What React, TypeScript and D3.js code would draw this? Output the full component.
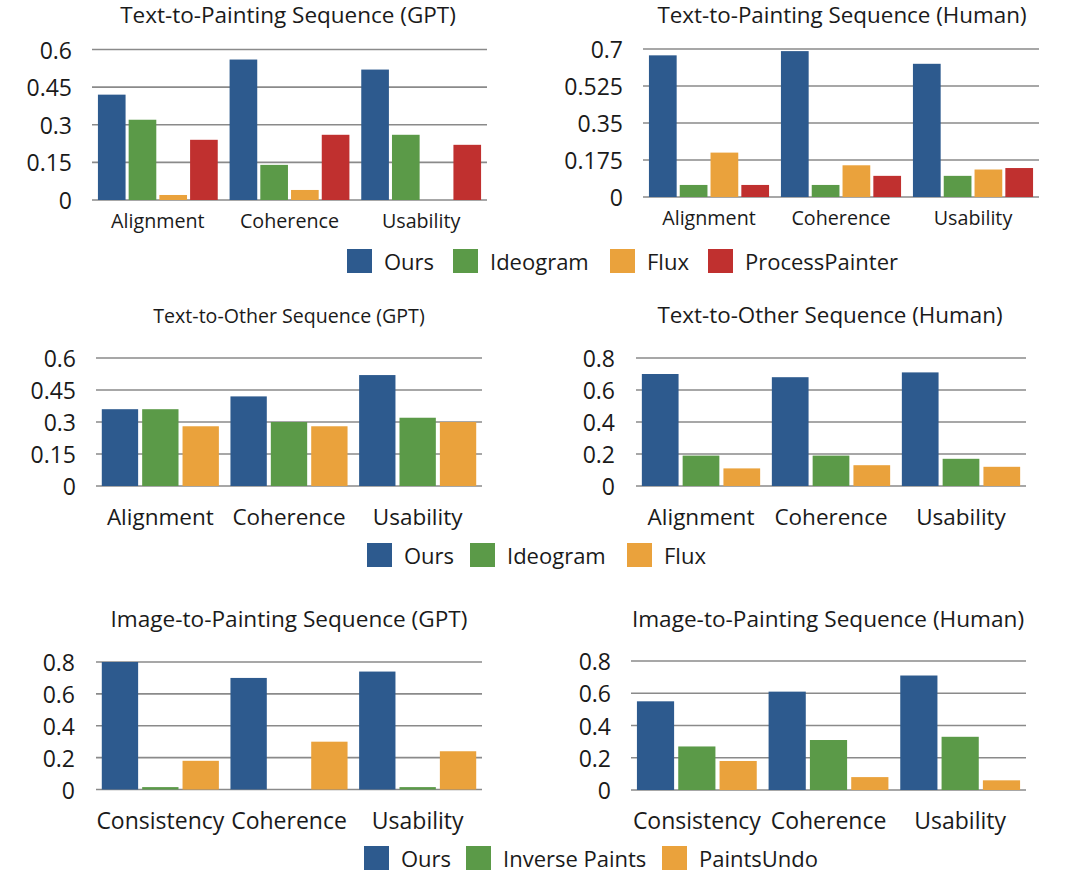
import React from "react";
import { scaleBand, scaleLinear } from "d3";

// categories
const textCats = ["Alignment", "Coherence", "Usability"];
const imageCats = ["Consistency", "Coherence", "Usability"];

// series names
const paintSeries = ["Ours", "Ideogram", "Flux", "ProcessPainter"];
const otherSeries = ["Ours", "Ideogram", "Flux"];
const imageSeries = ["Ours", "Inverse Paints", "PaintsUndo"];

// Text-to-Painting (GPT)
const tpGptOurs = [0.42, 0.56, 0.52];
const tpGptIdeogram = [0.32, 0.14, 0.26];
const tpGptFlux = [0.02, 0.04, 0];
const tpGptProcess = [0.24, 0.26, 0.22];

// Text-to-Painting (Human)
const tpHumOurs = [0.67, 0.69, 0.63];
const tpHumIdeogram = [0.057, 0.057, 0.1];
const tpHumFlux = [0.21, 0.15, 0.13];
const tpHumProcess = [0.057, 0.1, 0.137];

// Text-to-Other (GPT)
const toGptOurs = [0.36, 0.42, 0.52];
const toGptIdeogram = [0.36, 0.3, 0.32];
const toGptFlux = [0.28, 0.28, 0.3];

// Text-to-Other (Human)
const toHumOurs = [0.7, 0.68, 0.71];
const toHumIdeogram = [0.19, 0.19, 0.17];
const toHumFlux = [0.11, 0.13, 0.12];

// Image-to-Painting (GPT)
const ipGptOurs = [0.8, 0.7, 0.74];
const ipGptInverse = [0.015, 0, 0.015];
const ipGptUndo = [0.18, 0.3, 0.24];

// Image-to-Painting (Human)
const ipHumOurs = [0.55, 0.61, 0.71];
const ipHumInverse = [0.27, 0.31, 0.33];
const ipHumUndo = [0.18, 0.08, 0.06];

// tick labels
const ticks06 = [0, 0.15, 0.3, 0.45, 0.6];
const ticks07 = [0, 0.175, 0.35, 0.525, 0.7];
const ticks08 = [0, 0.2, 0.4, 0.6, 0.8];

const colors = ["#2d5a8e", "#5b9a48", "#eaa23c", "#c0302f"];
const FONT = "'Open Sans', Lato, sans-serif";
const INK = "#1a1a1a";

type PanelProps = {
  title: string;
  titleX: number;
  titleY: number;
  titleSize: number;
  cats: string[];
  series: string[];
  values: number[][];
  ticks: number[];
  left: number;
  right: number;
  top: number;
  bottom: number;
  labelRight: number;
  tickSize: number;
  catSize: number;
  catY: number;
};

function Panel(p: PanelProps) {
  const y = scaleLinear()
    .domain([0, p.ticks[p.ticks.length - 1]])
    .range([p.bottom, p.top]);
  const x0 = scaleBand<string>()
    .domain(p.cats)
    .range([p.left, p.right])
    .paddingInner(0.09)
    .paddingOuter(0.045);
  const x1 = scaleBand<string>()
    .domain(p.series)
    .range([0, x0.bandwidth()])
    .paddingInner(0.1);

  return (
    <g>
      <text
        x={p.titleX}
        y={p.titleY}
        textAnchor="middle"
        dominantBaseline="central"
        fontSize={p.titleSize}
        fill={INK}
      >
        {p.title}
      </text>

      {/* grid + y labels */}
      {p.ticks.map((t) => (
        <g key={t}>
          <line
            x1={p.left}
            x2={p.right}
            y1={y(t)}
            y2={y(t)}
            stroke="#8a8a8a"
            strokeWidth={1.6}
          />
          <text
            x={p.labelRight}
            y={y(t)}
            textAnchor="end"
            dominantBaseline="central"
            fontSize={p.tickSize}
            fill={INK}
          >
            {String(t)}
          </text>
        </g>
      ))}

      {/* bars */}
      {p.cats.map((c, ci) => (
        <g key={c} transform={`translate(${x0(c)},0)`}>
          {p.series.map((s, si) => {
            const v = p.values[si][ci];
            if (v <= 0) return null;
            return (
              <rect
                key={s}
                x={x1(s)}
                y={y(v)}
                width={x1.bandwidth()}
                height={y(0) - y(v)}
                fill={colors[si]}
              />
            );
          })}
          <text
            x={x0.bandwidth() / 2}
            y={p.catY}
            textAnchor="middle"
            dominantBaseline="central"
            fontSize={p.catSize}
            fill={INK}
          >
            {c}
          </text>
        </g>
      ))}
    </g>
  );
}

function Legend({
  series,
  xs,
  y,
  size,
}: {
  series: string[];
  xs: number[];
  y: number;
  size: number;
}) {
  return (
    <g>
      {series.map((s, i) => (
        <g key={s} transform={`translate(${xs[i]},${y})`}>
          <rect x={0} y={-12} width={25} height={24} fill={colors[i]} />
          <text
            x={37}
            y={0}
            dominantBaseline="central"
            fontSize={size}
            fill={INK}
          >
            {s}
          </text>
        </g>
      ))}
    </g>
  );
}

export default function App() {
  return (
    <svg
      width={1080}
      height={872}
      style={{ position: "absolute", left: 0, top: 0, background: "#fff" }}
      fontFamily={FONT}
    >
      <Panel
        title="Text-to-Painting Sequence (GPT)"
        titleX={288}
        titleY={14}
        titleSize={22.5}
        cats={textCats}
        series={paintSeries}
        values={[tpGptOurs, tpGptIdeogram, tpGptFlux, tpGptProcess]}
        ticks={ticks06}
        left={92}
        right={487}
        top={49.5}
        bottom={200}
        labelRight={72}
        tickSize={23}
        catSize={19.7}
        catY={220}
      />
      <Panel
        title="Text-to-Painting Sequence (Human)"
        titleX={842}
        titleY={14}
        titleSize={22.4}
        cats={textCats}
        series={paintSeries}
        values={[tpHumOurs, tpHumIdeogram, tpHumFlux, tpHumProcess]}
        ticks={ticks07}
        left={643}
        right={1039}
        top={49}
        bottom={197}
        labelRight={623}
        tickSize={23}
        catSize={19.7}
        catY={217}
      />
      <Legend series={paintSeries} xs={[347, 453, 610, 708]} y={261} size={22} />

      <Panel
        title="Text-to-Other Sequence (GPT)"
        titleX={289}
        titleY={315}
        titleSize={19.6}
        cats={textCats}
        series={otherSeries}
        values={[toGptOurs, toGptIdeogram, toGptFlux]}
        ticks={ticks06}
        left={96}
        right={482}
        top={358}
        bottom={486}
        labelRight={76}
        tickSize={23}
        catSize={22.5}
        catY={516}
      />
      <Panel
        title="Text-to-Other Sequence (Human)"
        titleX={830}
        titleY={314}
        titleSize={22.4}
        cats={textCats}
        series={otherSeries}
        values={[toHumOurs, toHumIdeogram, toHumFlux]}
        ticks={ticks08}
        left={636}
        right={1026}
        top={358}
        bottom={486}
        labelRight={615}
        tickSize={23}
        catSize={22.5}
        catY={516}
      />
      <Legend series={otherSeries} xs={[367, 470, 627]} y={555} size={22} />

      <Panel
        title="Image-to-Painting Sequence (GPT)"
        titleX={289}
        titleY={618}
        titleSize={22.6}
        cats={imageCats}
        series={imageSeries}
        values={[ipGptOurs, ipGptInverse, ipGptUndo]}
        ticks={ticks08}
        left={96}
        right={482}
        top={662}
        bottom={789.5}
        labelRight={75}
        tickSize={23}
        catSize={23}
        catY={820}
      />
      <Panel
        title="Image-to-Painting Sequence (Human)"
        titleX={828}
        titleY={618}
        titleSize={22.6}
        cats={imageCats}
        series={imageSeries}
        values={[ipHumOurs, ipHumInverse, ipHumUndo]}
        ticks={ticks08}
        left={631}
        right={1026}
        top={661}
        bottom={790}
        labelRight={611}
        tickSize={23}
        catSize={23}
        catY={820}
      />
      <Legend series={imageSeries} xs={[364, 466, 662]} y={858} size={22} />
    </svg>
  );
}
